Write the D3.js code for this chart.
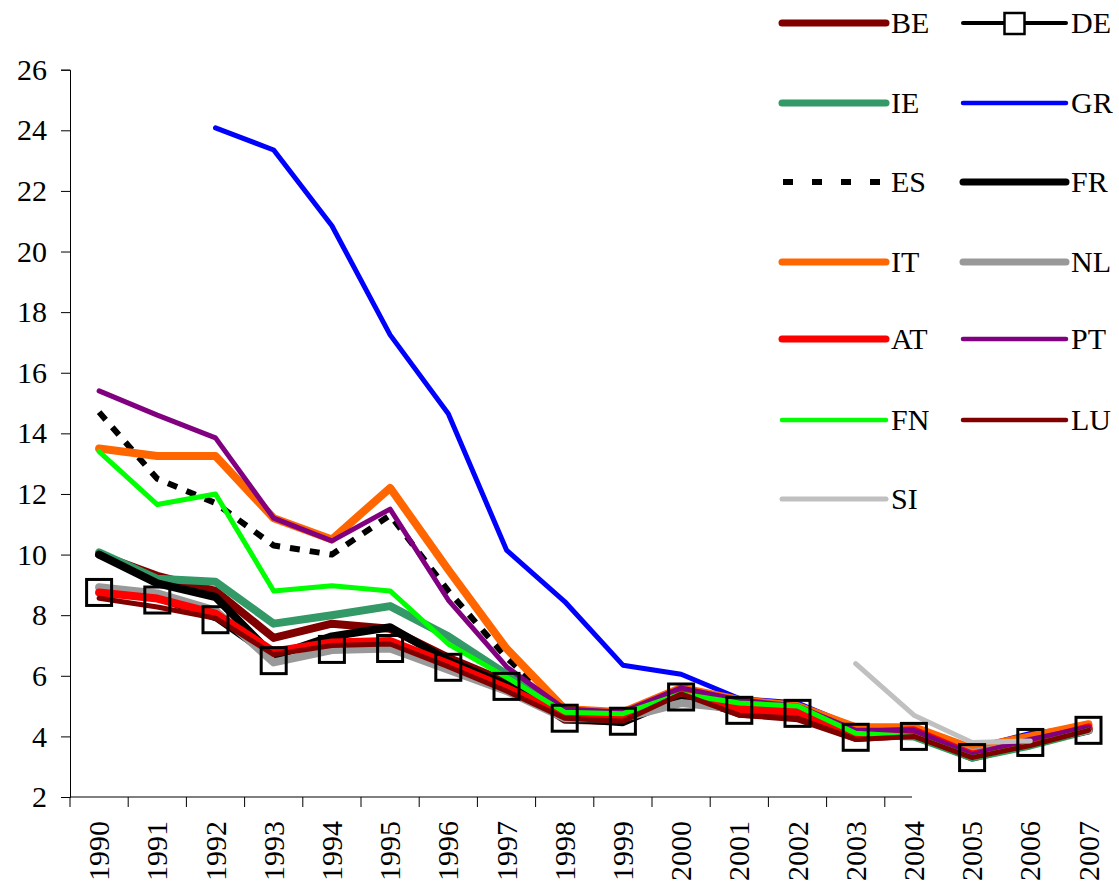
<!DOCTYPE html>
<html>
<head>
<meta charset="utf-8">
<script src="https://cdn.jsdelivr.net/npm/d3@7/dist/d3.min.js"></script>
<style>
  html, body { margin: 0; padding: 0; background: #fff; }
  svg { display: block; }
</style>
</head>
<body>
<svg id="chart" width="1119" height="889"></svg>
<script>
const years = [1990,1991,1992,1993,1994,1995,1996,1997,1998,1999,2000,2001,2002,2003,2004,2005,2006,2007];
const yTicks = [2,4,6,8,10,12,14,16,18,20,22,24,26];

const BE = [10.0, 9.3, 8.8, 7.25, 7.72, 7.55, 6.6, 5.8, 4.55, 4.5, 5.45, 4.75, 4.6, 3.95, 4.05, 3.3, 3.75, 4.25];
const DE = [8.75, 8.5, 7.85, 6.5, 6.87, 6.9, 6.28, 5.65, 4.6, 4.5, 5.3, 4.86, 4.76, 3.97, 4.0, 3.3, 3.8, 4.2];
const IE = [10.07, 9.2, 9.1, 7.72, 8.0, 8.3, 7.3, 6.05, 4.8, 4.7, 5.4, 5.0, 4.9, 4.05, 4.0, 3.3, 3.7, 4.2];
const GR = [null, null, 24.08, 23.35, 20.85, 17.25, 14.65, 10.15, 8.45, 6.35, 6.05, 5.25, 5.1, 4.3, 4.3, 3.6, 4.1, 4.3];
const ES = [14.7, 12.5, 11.7, 10.3, 10.0, 11.3, 8.8, 6.6, 4.8, 4.7, 5.5, 5.1, 5.0, 4.1, 4.1, 3.4, 3.8, 4.3];
const FR = [10.0, 9.05, 8.6, 6.65, 7.3, 7.6, 6.5, 5.7, 4.6, 4.47, 5.3, 4.8, 4.75, 4.0, 4.1, 3.4, 3.8, 4.2];
const IT = [13.5, 13.25, 13.25, 11.2, 10.5, 12.2, 9.5, 6.9, 4.9, 4.8, 5.6, 5.2, 5.0, 4.3, 4.3, 3.6, 4.0, 4.4];
const NL = [8.92, 8.72, 8.15, 6.44, 6.85, 6.9, 6.2, 5.5, 4.6, 4.6, 5.1, 4.9, 4.7, 4.1, 4.1, 3.45, 3.8, 4.2];
const AT = [8.75, 8.55, 8.05, 6.8, 7.1, 7.15, 6.4, 5.6, 4.7, 4.6, 5.5, 4.9, 4.8, 4.1, 4.2, 3.4, 3.8, 4.3];
const PT = [15.4, 14.6, 13.85, 11.2, 10.45, 11.5, 8.5, 6.3, 4.9, 4.8, 5.6, 5.2, 5.0, 4.2, 4.2, 3.4, 3.9, 4.3];
const FN = [13.4, 11.65, 12.0, 8.8, 8.97, 8.8, 7.05, 5.95, 4.8, 4.75, 5.4, 5.1, 5.0, 4.1, 4.0, 3.3, 3.7, 4.2];
const LU = [8.56, 8.27, 7.9, 6.7, 7.0, 7.05, 6.3, 5.5, 4.6, 4.5, 5.4, 4.7, 4.6, 3.9, 4.0, 3.3, 3.7, 4.2];
const SI = [null, null, null, null, null, null, null, null, null, null, null, null, null, 6.4, 4.7, 3.8, 3.85, null];

const seriesNames = ["BE","DE","IE","GR","ES","FR","IT","NL","AT","PT","FN","LU","SI"];
const seriesValues = [BE, DE, IE, GR, ES, FR, IT, NL, AT, PT, FN, LU, SI];
const seriesColors = ["#800000","#000000","#339966","#0000FF","#000000","#000000","#FF6600","#999999","#FF0000","#800080","#00FF00","#800000","#C0C0C0"];
const seriesWidths = [8, 3, 8, 5, 6, 8, 8, 8, 8, 5, 5, 5, 5];
const legendWidths = [7, 4, 7, 4.5, 6, 7, 7, 7, 7, 4.5, 4.5, 4.5, 5];

const FONT = '"Liberation Serif", "Times New Roman", Times, "Nimbus Roman", "Nimbus Roman No9 L", FreeSerif, "Noto Serif", "DejaVu Serif", serif';
const svg = d3.select("#chart");

const x = d3.scaleBand().domain(years).range([70, 70 + 18 * 58.2]).padding(0);
const y = d3.scaleLinear().domain([2, 26]).range([797, 69.7]);
const cx = d => x(d) + x.bandwidth() / 2;

// Y axis
const yAxis = svg.append("g")
  .attr("transform", "translate(70,0)")
  .call(d3.axisLeft(y).tickValues(yTicks).tickSize(9).tickPadding(14).tickFormat(d3.format("d")));
yAxis.attr("font-family", FONT).attr("font-size", 30);
yAxis.select(".domain").attr("stroke", "#000").attr("stroke-width", 1);
yAxis.selectAll(".tick line").attr("stroke", "#000");
yAxis.selectAll("text").attr("font-family", FONT).attr("font-size", 30).attr("fill", "#000");

// X axis
const xg = svg.append("g").attr("transform", "translate(0,797)");
xg.append("line").attr("x1", 70).attr("x2", 912).attr("y1", 0).attr("y2", 0).attr("stroke", "#000").attr("stroke-width", 1);
xg.selectAll("line.tk").data(years.slice(0, 15)).enter().append("line")
  .attr("class", "tk")
  .attr("x1", d => x(d)).attr("x2", d => x(d))
  .attr("y1", 0).attr("y2", 10)
  .attr("stroke", "#000").attr("stroke-width", 1);
xg.selectAll("text.yl").data(years).enter().append("text")
  .attr("class", "yl")
  .attr("transform", d => `translate(${cx(d) + 10},24) rotate(-90)`)
  .attr("text-anchor", "end")
  .attr("font-family", FONT)
  .attr("font-size", 30)
  .attr("fill", "#000")
  .text(d => d);

// Lines
const lineGen = d3.line()
  .defined(d => d.v !== null)
  .x(d => cx(d.year))
  .y(d => y(d.v));

seriesNames.forEach((name, i) => {
  const data = years.map((yr, j) => ({ year: yr, v: seriesValues[i][j] }));
  const p = svg.append("path")
    .datum(data)
    .attr("d", lineGen)
    .attr("fill", "none")
    .attr("stroke", seriesColors[i])
    .attr("stroke-width", seriesWidths[i])
    .attr("stroke-linejoin", "round")
    .attr("stroke-linecap", name === "ES" ? "butt" : "round");
  if (name === "ES") p.attr("stroke-dasharray", "10,10");
});

// DE markers
const deData = years.map((yr, j) => ({ year: yr, v: DE[j] })).filter(d => d.v !== null);
svg.selectAll("rect.de").data(deData).enter().append("rect")
  .attr("class", "de")
  .attr("x", d => cx(d.year) - 12.5)
  .attr("y", d => y(d.v) - 13)
  .attr("width", 25).attr("height", 26)
  .attr("fill", "none").attr("stroke", "#000").attr("stroke-width", 3);

// Legend
const legendRowsY = [23, 103, 182, 262, 339, 420, 499];
const legend = svg.append("g");
seriesNames.forEach((name, i) => {
  const col = i % 2;
  const row = Math.floor(i / 2);
  const x1 = col === 0 ? 782 : 963;
  const x2 = col === 0 ? 886 : 1066;
  const ly = legendRowsY[row];
  const l = legend.append("line")
    .attr("x1", x1).attr("x2", x2).attr("y1", ly).attr("y2", ly)
    .attr("stroke", seriesColors[i])
    .attr("stroke-width", legendWidths[i])
    .attr("stroke-linecap", name === "ES" ? "butt" : "round");
  if (name === "ES") l.attr("stroke-dasharray", "10,19").attr("x1", 783);
  if (name === "DE") {
    legend.append("rect")
      .attr("x", (x1 + x2) / 2 - 10).attr("y", ly - 10)
      .attr("width", 20).attr("height", 21)
      .attr("fill", "#fff").attr("stroke", "#000").attr("stroke-width", 2.5);
  }
  legend.append("text")
    .attr("x", col === 0 ? 891 : 1071)
    .attr("y", ly + 10)
    .attr("font-family", FONT)
    .attr("font-size", 30)
    .attr("fill", "#000")
    .text(name);
});
</script>
</body>
</html>
